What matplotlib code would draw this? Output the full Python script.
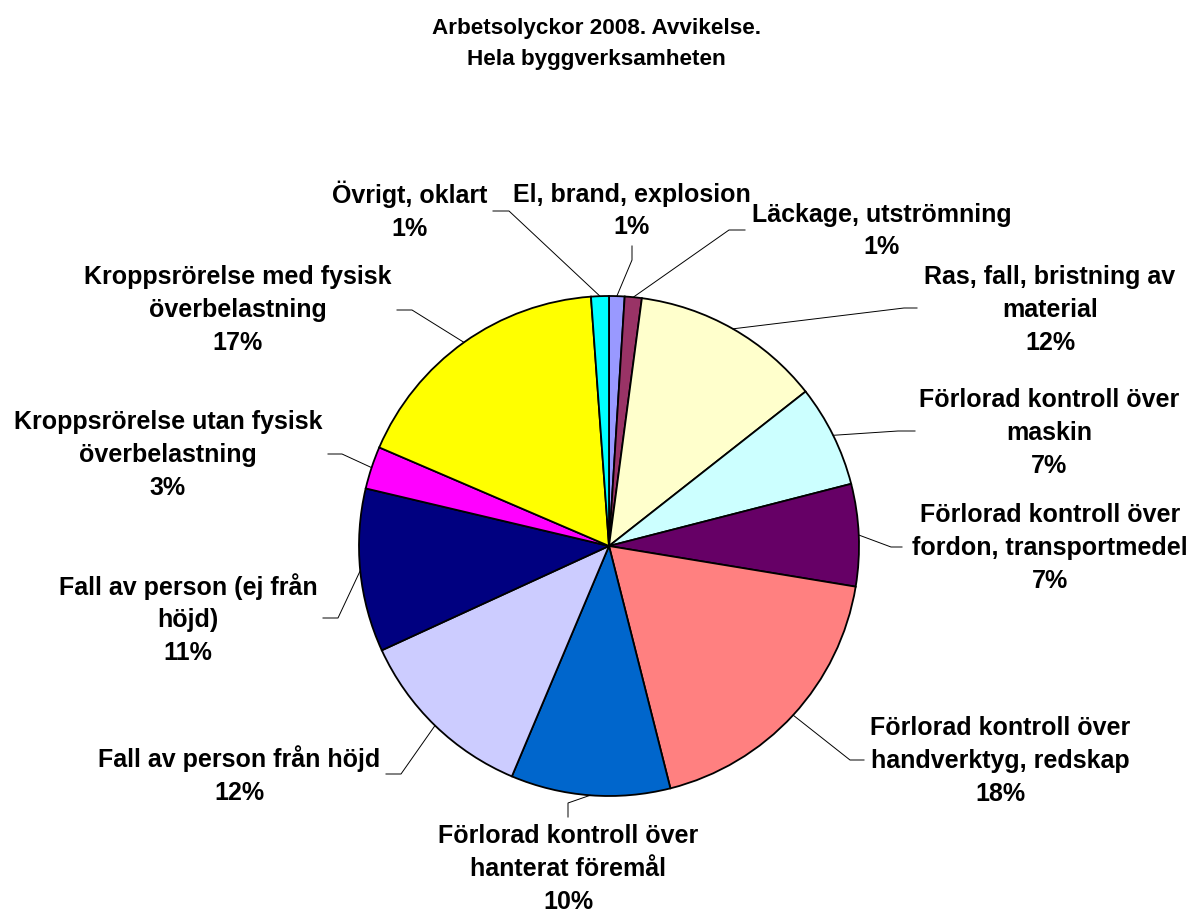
import matplotlib
matplotlib.use("Agg")
import matplotlib.pyplot as plt
import numpy as np

# slices, clockwise from 12 o'clock (share of accidents, %)
names = [
    "El, brand, explosion",
    "Läckage, utströmning",
    "Ras, fall, bristning av\nmaterial",
    "Förlorad kontroll över\nmaskin",
    "Förlorad kontroll över\nfordon, transportmedel",
    "Förlorad kontroll över\nhandverktyg, redskap",
    "Förlorad kontroll över\nhanterat föremål",
    "Fall av person från höjd",
    "Fall av person (ej från\nhöjd)",
    "Kroppsrörelse utan fysisk\növerbelastning",
    "Kroppsrörelse med fysisk\növerbelastning",
    "Övrigt, oklart",
]
shares = [1.0, 1.1, 12.3, 6.6, 6.6, 18.45, 10.3, 11.8, 10.55, 2.75, 17.4, 1.15]
colors = ["#9999FF", "#993366", "#FFFFCC", "#CCFFFF", "#660066", "#FF8080",
          "#0066CC", "#CCCCFF", "#000080", "#FF00FF", "#FFFF00", "#00FFFF"]

# layout in pixels of the 1192x913 picture: label centre, leader kink, leader end
label_xy = [(632, 211), (882, 231), (1050, 310), (1049, 433), (1050, 548), (1000, 761),
            (568, 869), (239, 775), (188, 619), (168, 455), (238, 310), (410, 211)]
kink_xy = [(632, 260), (729, 230), (904, 308), (898, 431), (891, 547), (850, 760),
           (568, 803), (401, 774), (338, 618), (342, 454), (412, 310), (509, 211)]
end_xy = [(632, 246), (745, 230), (917, 308), (915, 431), (902, 547), (864, 760),
          (568, 817), (386, 774), (323, 618), (328, 454), (397, 310), (493, 211)]

W, H = 1192, 913
CX, CY, R = 609, 546, 250


def px(p):
    return ((p[0] - CX) / R, (CY - p[1]) / R)


plt.rcParams['font.family'] = ['Liberation Sans', 'DejaVu Sans']

fig = plt.figure(figsize=(W / 100, H / 100), dpi=100)
ax = fig.add_axes([0, 0, 1, 1])

wedges, _ = ax.pie(shares, colors=colors, startangle=90, counterclock=False,
                   radius=1, center=(0, 0),
                   wedgeprops=dict(edgecolor="black", linewidth=1.3))

ax.set_xlim(-CX / R, (W - CX) / R)
ax.set_ylim(-(H - CY) / R, CY / R)
ax.axis("off")

total = sum(shares)
for w, name, v, lxy, kxy, exy in zip(wedges, names, shares, label_xy, kink_xy, end_xy):
    a = np.deg2rad((w.theta1 + w.theta2) / 2)
    sx, sy = np.cos(a), np.sin(a)
    kx, ky = px(kxy)
    ex, ey = px(exy)
    ax.plot([sx, kx, ex], [sy, ky, ey], color="black", lw=0.7)
    tx, ty = px(lxy)
    ax.text(tx, ty, f"{name}\n{v / total * 100:.0f}%", ha="center", va="center",
            fontsize=18, fontweight="bold", linespacing=1.45)

fig.text(596 / W, 1 - 44 / H, "Arbetsolyckor 2008. Avvikelse.\nHela byggverksamheten",
         ha="center", va="center", fontsize=16.2, fontweight="bold", linespacing=1.65)

fig.savefig("out.png", dpi=100)
